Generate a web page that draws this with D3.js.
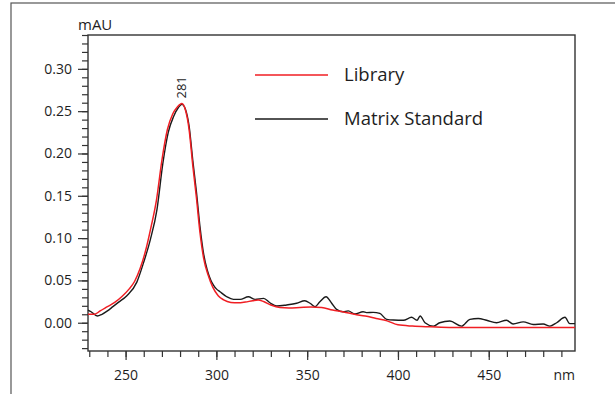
<!DOCTYPE html>
<html>
<head>
<meta charset="utf-8">
<script src="https://cdn.jsdelivr.net/npm/d3@7"></script>
<style>
  body { margin: 0; background: #fff; }
  svg text { font-family: "Open Sans", "Noto Sans", sans-serif; fill: #1e1e1e; }
</style>
</head>
<body>
<div class="spectrum-chart"></div>
<script>
// Library spectrum (smooth)
const libNm = [229.3, 233, 236, 240, 244, 248, 252, 255, 258, 261, 264, 267, 270, 273, 276, 278.5, 281, 283, 285, 287, 289, 291, 293, 295.5, 298, 301, 304, 308, 312, 316, 320, 323, 326, 330, 335, 340, 346, 352, 358, 364, 370, 376, 382, 388, 394, 400, 408, 418, 430, 445, 460, 497.5];
const libAbs = [0.010, 0.010, 0.014, 0.019, 0.024, 0.031, 0.040, 0.049, 0.064, 0.085, 0.113, 0.145, 0.192, 0.228, 0.247, 0.255, 0.259, 0.251, 0.228, 0.186, 0.148, 0.106, 0.076, 0.056, 0.042, 0.032, 0.027, 0.024, 0.0235, 0.0245, 0.026, 0.0268, 0.025, 0.021, 0.018, 0.0175, 0.018, 0.0185, 0.018, 0.015, 0.0128, 0.010, 0.0079, 0.005, 0.0022, -0.0025, -0.004, -0.0048, -0.0055, -0.0055, -0.0055, -0.0055];

// Matrix standard spectrum (noisy)
const matNm = [229.3, 231, 234.4, 237, 240, 243, 246, 250.7, 256.2, 259.9, 263.6, 267.3, 270.5, 273.5, 276.5, 279, 281, 283, 285, 287, 289, 291, 293, 295, 297, 298.4, 300, 302, 305.7, 309.4, 313.1, 317.6, 321.4, 326, 329.5, 333.2, 338.7, 344.2, 348.7, 351.6, 354.3, 357, 360.4, 363.5, 366.2, 369.8, 372.6, 376.3, 380.8, 382.7, 386.3, 390, 393.8, 397.5, 403, 407.5, 410.5, 412.2, 414.9, 419.5, 423, 428.6, 435, 439.6, 444.2, 448.8, 454.3, 459.8, 463.4, 469, 474.5, 480, 483.7, 487.4, 492, 494.6, 497.5];
const matAbs = [0.015, 0.013, 0.008, 0.010, 0.014, 0.019, 0.024, 0.032, 0.048, 0.071, 0.098, 0.134, 0.188, 0.225, 0.244, 0.254, 0.258, 0.252, 0.232, 0.192, 0.155, 0.113, 0.081, 0.062, 0.050, 0.0445, 0.040, 0.0366, 0.0307, 0.0276, 0.0276, 0.0307, 0.0276, 0.0288, 0.0236, 0.0197, 0.021, 0.023, 0.026, 0.023, 0.019, 0.0248, 0.0307, 0.023, 0.0158, 0.013, 0.014, 0.0103, 0.013, 0.012, 0.0123, 0.011, 0.004, 0.0032, 0.003, 0.0064, 0.003, 0.008, 0.000, -0.004, 0.000, 0.002, -0.004, 0.004, 0.005, 0.003, 0.000, 0.003, -0.0015, 0.001, -0.002, -0.0015, -0.004, 0.000, 0.0064, -0.001, -0.001];

const yMajor = [0.00, 0.05, 0.10, 0.15, 0.20, 0.25, 0.30];
const xMajor = [250, 300, 350, 400, 450];
const legendNames = ["Library", "Matrix Standard"];
const legendColors = ["#f01e23", "#1a1a1a"];
const peakNm = 281;
const peakAbs = 0.259;

const width = 615, height = 394;
const plotLeft = 88, plotRight = 575, plotTop = 35, plotBottom = 351;

const svg = d3.select(".spectrum-chart")
    .append("svg")
    .attr("width", width)
    .attr("height", height);

// outer frame (clipped by the window)
svg.append("rect")
    .attr("x", 11).attr("y", 3)
    .attr("width", 700).attr("height", 500)
    .attr("fill", "none")
    .attr("stroke", "#555")
    .attr("stroke-width", 1.2);

const x = d3.scaleLinear().domain([229.3, 497.5]).range([plotLeft, plotRight]);
const y = d3.scaleLinear().domain([-0.0334, 0.34]).range([plotBottom, plotTop]);

// minor ticks
const yMinor = d3.range(-3, 35).map(d => d / 100);
const xMinor = d3.range(230, 500, 10);

svg.append("g")
    .attr("transform", `translate(${plotLeft},0)`)
    .call(d3.axisLeft(y).tickValues(yMinor).tickSize(6).tickFormat(""))
    .call(g => g.select(".domain").remove())
    .call(g => g.selectAll("line").attr("stroke", "#333").attr("stroke-width", 1.2));

svg.append("g")
    .attr("transform", `translate(${plotLeft},0)`)
    .call(d3.axisLeft(y).tickValues(yMajor).tickSize(10).tickPadding(6).tickFormat(d3.format(".2f")))
    .call(g => g.select(".domain").remove())
    .call(g => g.selectAll("line").attr("stroke", "#333").attr("stroke-width", 1.2))
    .call(g => g.selectAll("text").attr("font-size", 14).attr("fill", "#1e1e1e")
        .style("font-family", '"Open Sans", sans-serif'));

svg.append("g")
    .attr("transform", `translate(0,${plotBottom})`)
    .call(d3.axisBottom(x).tickValues(xMinor).tickSize(6).tickFormat(""))
    .call(g => g.select(".domain").remove())
    .call(g => g.selectAll("line").attr("stroke", "#333").attr("stroke-width", 1.2));

svg.append("g")
    .attr("transform", `translate(0,${plotBottom})`)
    .call(d3.axisBottom(x).tickValues(xMajor).tickSize(9).tickPadding(10).tickFormat(d3.format("d")))
    .call(g => g.select(".domain").remove())
    .call(g => g.selectAll("line").attr("stroke", "#333").attr("stroke-width", 1.2))
    .call(g => g.selectAll("text").attr("font-size", 14).attr("fill", "#1e1e1e")
        .style("font-family", '"Open Sans", sans-serif'));

// plot box
svg.append("rect")
    .attr("x", plotLeft).attr("y", plotTop)
    .attr("width", plotRight - plotLeft).attr("height", plotBottom - plotTop)
    .attr("fill", "none")
    .attr("stroke", "#333")
    .attr("stroke-width", 1.4);

// unit labels
svg.append("text")
    .attr("x", 78).attr("y", 30)
    .attr("font-size", 15)
    .text("mAU");

svg.append("text")
    .attr("x", plotRight).attr("y", 380)
    .attr("text-anchor", "end")
    .attr("font-size", 14)
    .text("nm");

// lines
const libData = libNm.map((d, i) => [d, libAbs[i]]);
const matData = matNm.map((d, i) => [d, matAbs[i]]);

const line = d3.line()
    .x(d => x(d[0]))
    .y(d => y(d[1]));

svg.append("path")
    .datum(matData)
    .attr("fill", "none")
    .attr("stroke", legendColors[1])
    .attr("stroke-width", 1.4)
    .attr("stroke-linejoin", "round")
    .attr("d", line.curve(d3.curveMonotoneX));

svg.append("path")
    .datum(libData)
    .attr("fill", "none")
    .attr("stroke", legendColors[0])
    .attr("stroke-width", 1.5)
    .attr("d", line.curve(d3.curveMonotoneX));

// peak label
svg.append("text")
    .attr("transform", `translate(${x(peakNm) + 4},${y(peakAbs) - 5}) rotate(-90)`)
    .attr("font-size", 13)
    .text(peakNm);

// legend
const legendY = [75, 119];
legendNames.forEach((name, i) => {
    svg.append("line")
        .attr("x1", 255).attr("x2", 328)
        .attr("y1", legendY[i]).attr("y2", legendY[i])
        .attr("stroke", legendColors[i])
        .attr("stroke-width", 1.3);
    svg.append("text")
        .attr("x", 344).attr("y", legendY[i] + 6)
        .attr("font-size", 18.5)
        .text(name);
});
</script>
</body>
</html>
